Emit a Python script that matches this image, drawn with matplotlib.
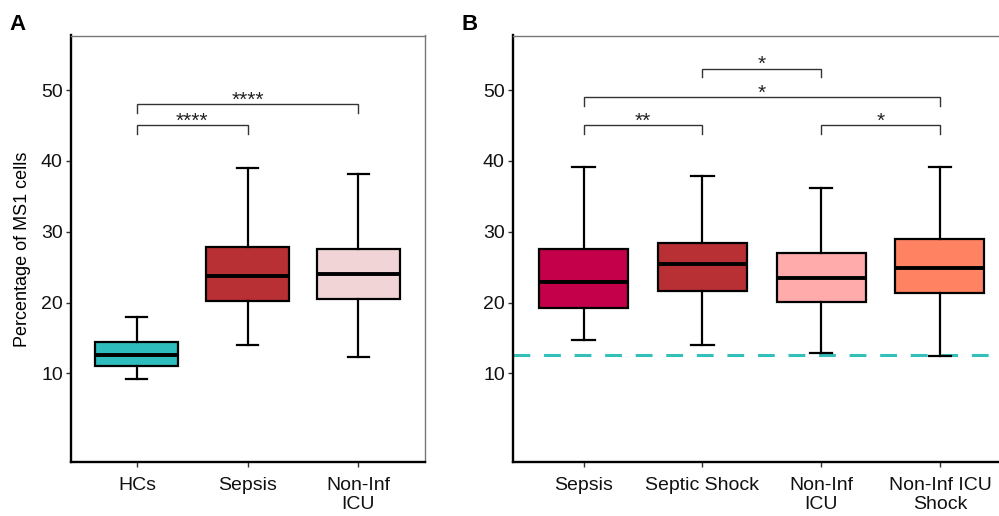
import matplotlib
matplotlib.use("Agg")
import matplotlib.pyplot as plt

plt.rcParams["font.family"] = ["Liberation Sans", "DejaVu Sans"]

# =============================================================================
# DATA
# =============================================================================

# panel A
groups_a = ["HCs", "Sepsis", "Non-Inf\nICU"]
colors_a = ["#2fbcbc", "#b83033", "#f1d5d6"]
wlo_a = [9.2, 14.0, 12.3]
q1_a = [11.0, 20.2, 20.5]
med_a = [12.6, 23.7, 24.0]
q3_a = [14.5, 27.8, 27.6]
whi_a = [18.0, 39.0, 38.1]
# (group i, group j, height, label)
sig_a = [(1, 2, 45.0, "****"), (1, 3, 48.0, "****")]

# panel B
groups_b = ["Sepsis", "Septic Shock", "Non-Inf\nICU", "Non-Inf ICU\nShock"]
colors_b = ["#c4004a", "#b83033", "#ffaaab", "#ff8262"]
wlo_b = [14.7, 14.0, 12.9, 12.4]
q1_b = [19.2, 21.7, 20.1, 21.4]
med_b = [22.9, 25.4, 23.5, 24.9]
q3_b = [27.5, 28.4, 27.0, 29.0]
whi_b = [39.1, 37.9, 36.2, 39.1]
sig_b = [(1, 2, 45.0, "**"), (3, 4, 45.0, "*"), (1, 4, 49.0, "*"), (2, 3, 53.0, "*")]

hc_median = 12.6
yticks = [10, 20, 30, 40, 50]

# =============================================================================
# HELPERS
# =============================================================================


def draw_panel(ax, groups, colors, wlo, q1, med, q3, whi, sigs, ncat):
    stats = []
    for i in range(len(groups)):
        stats.append({"whislo": wlo[i], "q1": q1[i], "med": med[i],
                      "q3": q3[i], "whishi": whi[i], "fliers": []})
    pos = list(range(1, len(groups) + 1))
    bp = ax.bxp(stats, positions=pos, widths=0.75, capwidths=0.19,
                patch_artist=True, showfliers=False,
                boxprops=dict(linewidth=1.6, edgecolor="black"),
                whiskerprops=dict(linewidth=1.6, color="black"),
                capprops=dict(linewidth=1.6, color="black"),
                medianprops=dict(linewidth=2.8, color="black"))
    for patch, c in zip(bp["boxes"], colors):
        patch.set_facecolor(c)

    tip = 1.2
    for i, j, h, lab in sigs:
        ax.plot([i, i, j, j], [h - tip, h, h, h - tip], color="#333333",
                lw=1.0, solid_joinstyle="miter")
        ax.text((i + j) / 2, h - 0.2, lab, ha="center", va="baseline",
                fontsize=15, color="#222222")

    ax.set_xlim(0.4, ncat + 0.6)
    ax.set_ylim(-2.55, 57.7)
    ax.set_xticks(pos)
    ax.set_xticklabels(groups, linespacing=1.2)
    ax.set_yticks(yticks)
    ax.tick_params(axis="both", labelsize=14, length=3.5, width=1.0,
                   color="#333333", labelcolor="#111111")
    ax.tick_params(axis="x", pad=7)
    ax.tick_params(axis="y", pad=2)
    for s in ["left", "bottom"]:
        ax.spines[s].set_linewidth(1.7)
        ax.spines[s].set_color("black")
    for s in ["top", "right"]:
        ax.spines[s].set_linewidth(1.0)
        ax.spines[s].set_color("#777777")


# =============================================================================
# FIGURE
# =============================================================================

fig = plt.figure(figsize=(9.99, 5.16), dpi=100)

ax_a = fig.add_axes([70.5 / 999, 1 - 462.3 / 516, (424.5 - 70.5) / 999, (462.3 - 35.5) / 516])
ax_b = fig.add_axes([512.5 / 999, 1 - 462.3 / 516, (1011.2 - 512.5) / 999, (462.3 - 35.5) / 516])

draw_panel(ax_a, groups_a, colors_a, wlo_a, q1_a, med_a, q3_a, whi_a, sig_a, 3)
draw_panel(ax_b, groups_b, colors_b, wlo_b, q1_b, med_b, q3_b, whi_b, sig_b, 4)

ax_b.axhline(hc_median, color="#33c0ba", lw=2.2, ls=(0, (5.5, 4.5)), zorder=0.5)

ax_a.set_ylabel("Percentage of MS1 cells", fontsize=13, labelpad=7)

fig.text(18 / 999, 1 - 24 / 516, "A", fontsize=16, fontweight="bold", va="center", ha="center")
fig.text(470 / 999, 1 - 24 / 516, "B", fontsize=16, fontweight="bold", va="center", ha="center")

fig.savefig("out.png", dpi=100)
